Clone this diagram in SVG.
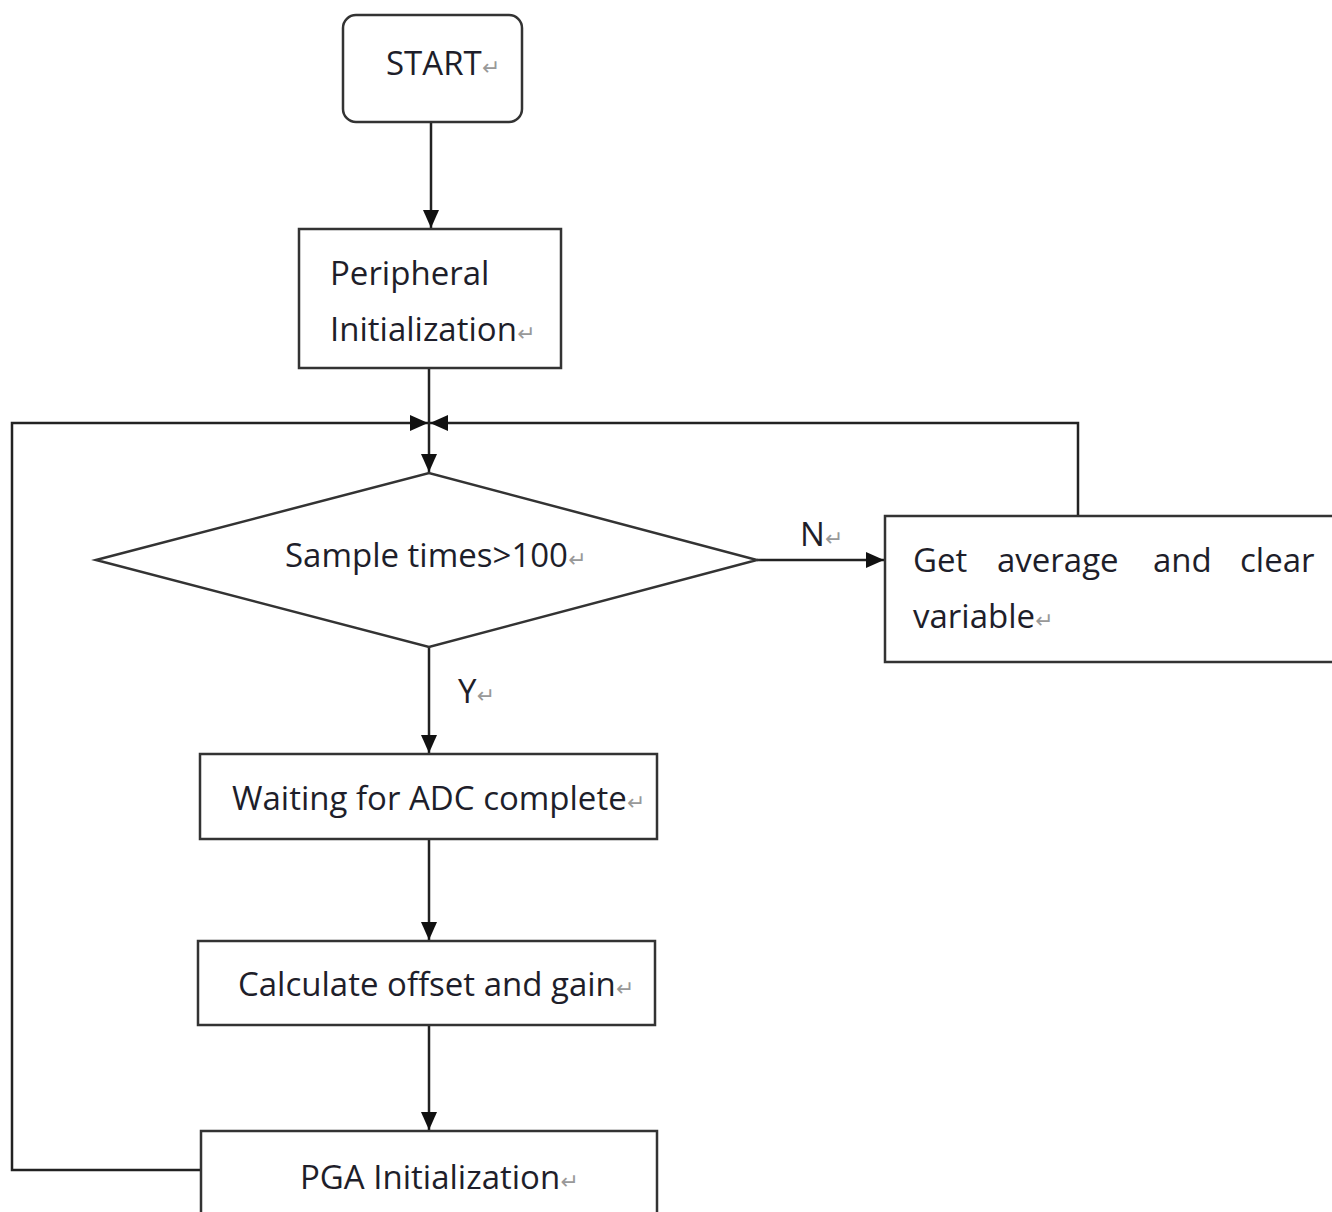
<svg xmlns="http://www.w3.org/2000/svg" width="1332" height="1212" viewBox="0 0 1332 1212">
<defs>
<marker id="arr" viewBox="0 0 18 16" refX="18" refY="8" markerWidth="18" markerHeight="16" markerUnits="userSpaceOnUse" orient="auto">
<path d="M0,0 L18,8 L0,16 z" fill="#111"/>
</marker>
<style>
.box{fill:#fff;stroke:#333;stroke-width:2.5}
.ln{fill:none;stroke:#222;stroke-width:2.5}
.t{font-family:"Open Sans","Noto Sans","DejaVu Sans",sans-serif;font-size:33px;fill:#1e1e2a}
.pm{fill:#999;font-size:22px}
</style>
</defs>
<rect width="1332" height="1212" fill="#fff"/>
<g id="connectors">
<line class="ln" x1="431" y1="122" x2="431" y2="228" marker-end="url(#arr)"/>
<line class="ln" x1="429" y1="368" x2="429" y2="472" marker-end="url(#arr)"/>
<polyline class="ln" points="201,1170 12,1170 12,423 428,423" marker-end="url(#arr)"/>
<polyline class="ln" points="1078,516 1078,423 430,423" marker-end="url(#arr)"/>
<line class="ln" x1="757" y1="560" x2="884" y2="560" marker-end="url(#arr)"/>
<line class="ln" x1="429" y1="647" x2="429" y2="753" marker-end="url(#arr)"/>
<line class="ln" x1="429" y1="839" x2="429" y2="940" marker-end="url(#arr)"/>
<line class="ln" x1="429" y1="1025" x2="429" y2="1130" marker-end="url(#arr)"/>
<text class="t" x="800" y="546">N<tspan class="pm">↵</tspan></text>
<text class="t" x="458" y="703">Y<tspan class="pm">↵</tspan></text>
</g>
<g id="start">
<rect class="box" x="343" y="15" width="179" height="107" rx="13"/>
<text class="t" x="386" y="75">START<tspan class="pm">↵</tspan></text>
</g>
<g id="peripheral">
<rect class="box" x="299" y="229" width="262" height="139"/>
<text class="t" x="330" y="285">Peripheral</text>
<text class="t" x="330" y="341">Initialization<tspan class="pm">↵</tspan></text>
</g>
<g id="decision">
<polygon class="box" points="96,560 429,473 757,560 429,647"/>
<text class="t" x="285" y="567">Sample times&gt;100<tspan class="pm">↵</tspan></text>
</g>
<g id="average">
<rect class="box" x="885" y="516" width="460" height="146"/>
<text class="t" x="913" y="572">Get</text>
<text class="t" x="997" y="572">average</text>
<text class="t" x="1153" y="572">and</text>
<text class="t" x="1240" y="572">clear</text>
<text class="t" x="913" y="628">variable<tspan class="pm">↵</tspan></text>
</g>
<g id="waiting">
<rect class="box" x="200" y="754" width="457" height="85"/>
<text class="t" x="232" y="810">Waiting for ADC complete<tspan class="pm">↵</tspan></text>
</g>
<g id="calculate">
<rect class="box" x="198" y="941" width="457" height="84"/>
<text class="t" x="238" y="996">Calculate offset and gain<tspan class="pm">↵</tspan></text>
</g>
<g id="pga">
<rect class="box" x="201" y="1131" width="456" height="100"/>
<text class="t" x="300" y="1189">PGA Initialization<tspan class="pm">↵</tspan></text>
</g>
</svg>
